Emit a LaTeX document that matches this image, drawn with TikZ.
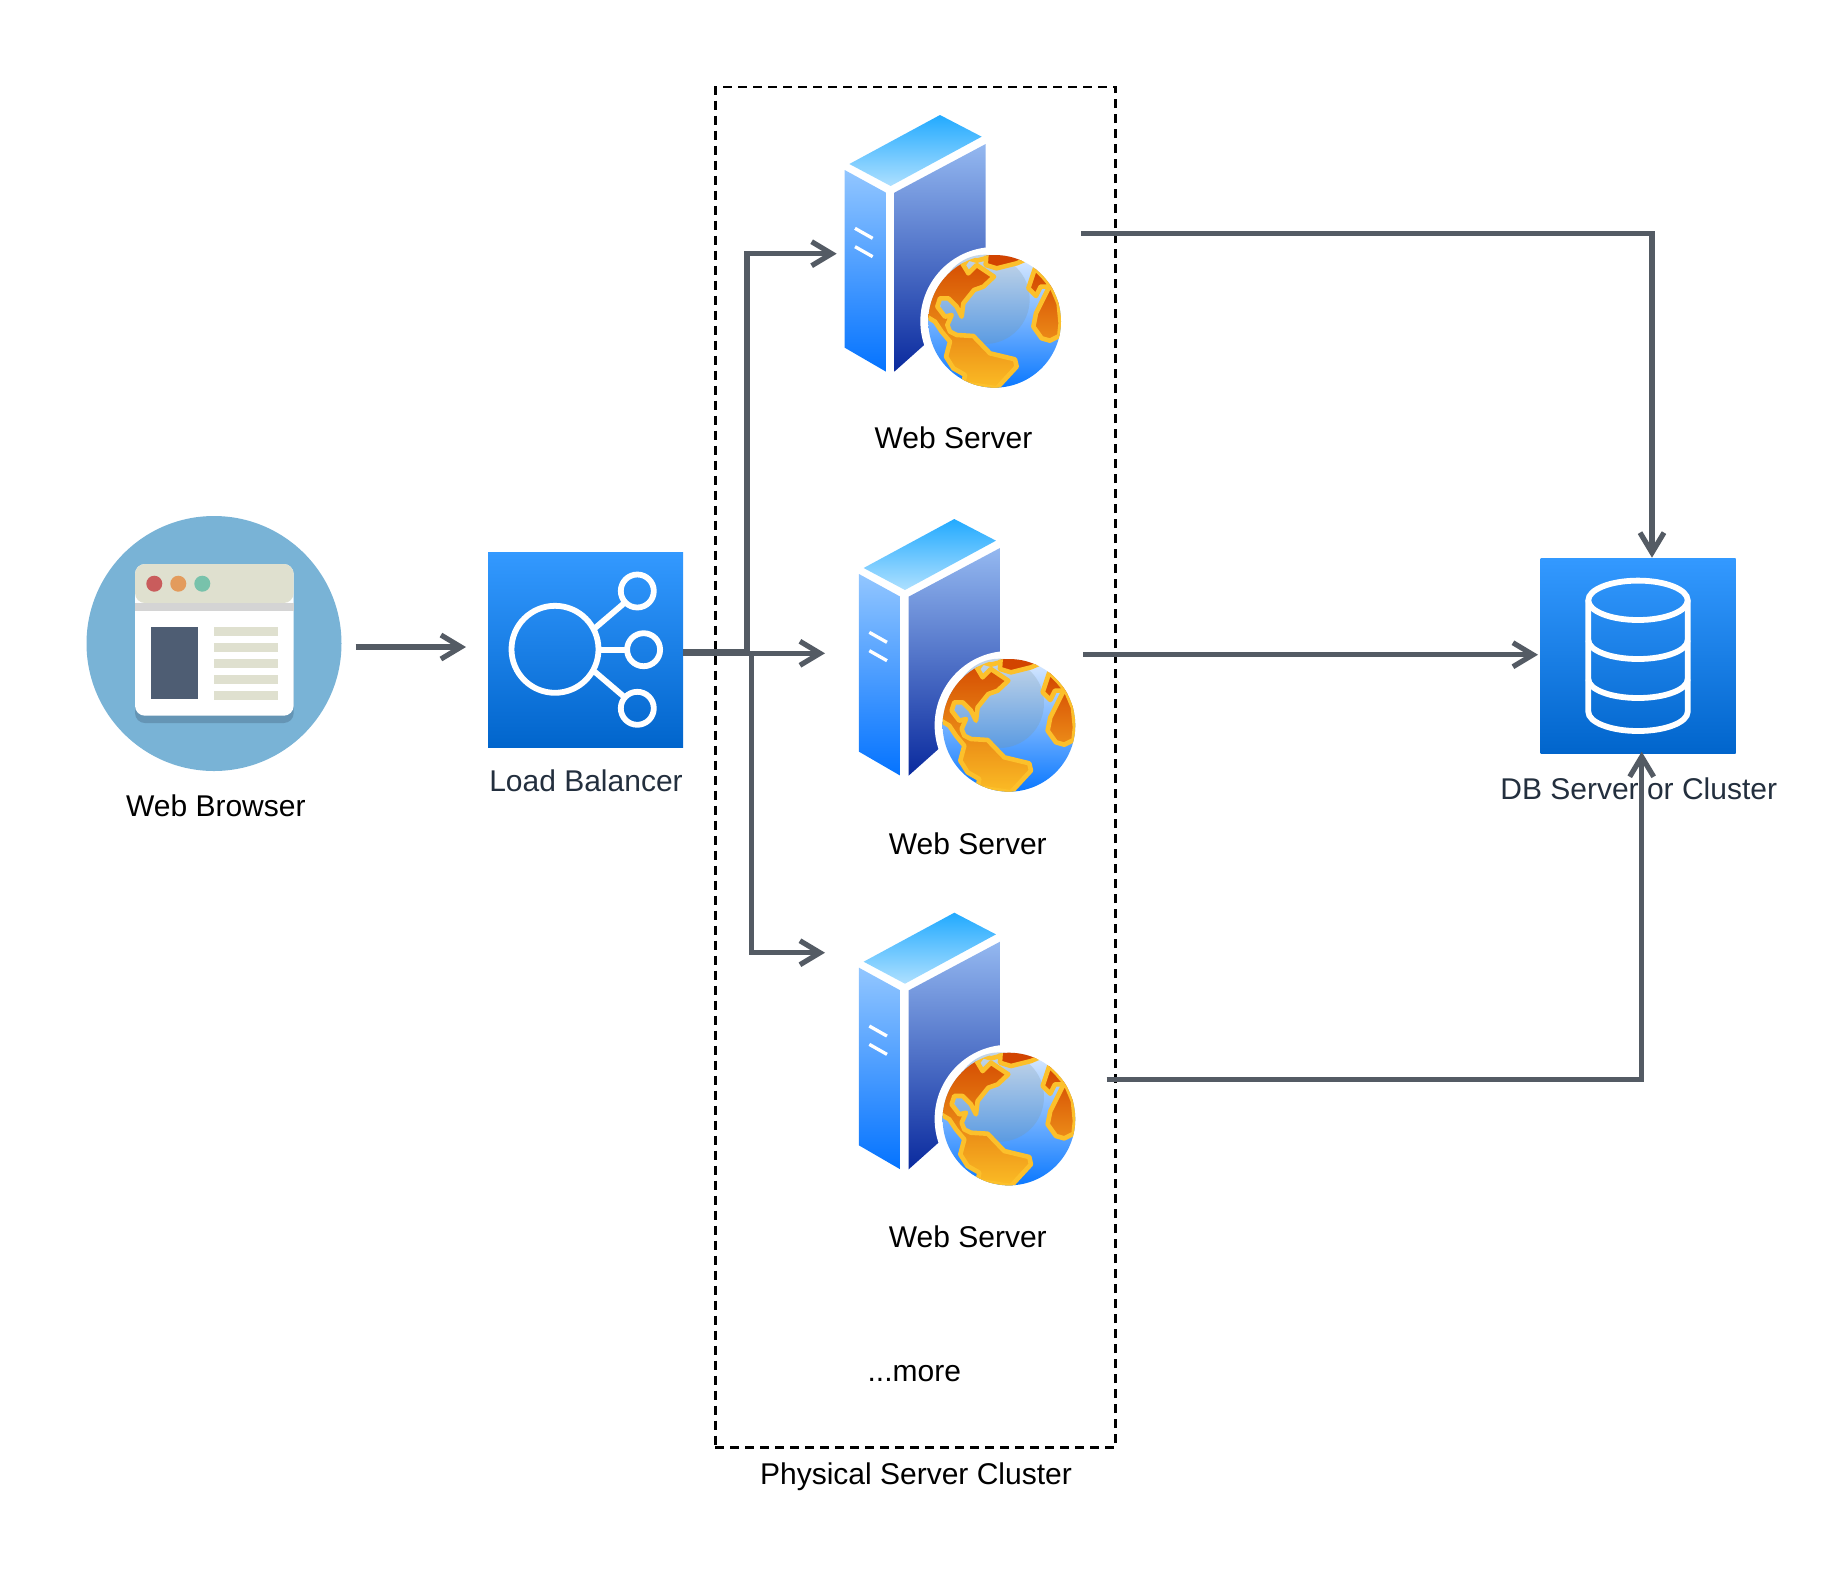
\documentclass[tikz,border=0pt]{standalone}
\usepackage{fontspec}
\setmainfont{Liberation Sans}
\usetikzlibrary{arrows.meta}

\definecolor{linkgray}{HTML}{545B64}
\definecolor{inkblue}{HTML}{232F3E}
\definecolor{skycircle}{HTML}{79B3D6}
\definecolor{cardshadow}{HTML}{6595B5}
\definecolor{barcream}{HTML}{DFE0CF}
\definecolor{slateblock}{HTML}{4E5D73}
\definecolor{awstop}{HTML}{3399FF}
\definecolor{awslow}{HTML}{0165CC}
\definecolor{roofa}{HTML}{22AAFF}
\definecolor{roofb}{HTML}{AEE0FF}
\definecolor{fronta}{HTML}{92C6FF}
\definecolor{frontb}{HTML}{0473FF}
\definecolor{sidea}{HTML}{94B8F0}
\definecolor{sideb}{HTML}{0A2A9E}
\definecolor{globea}{HTML}{DCEBFF}
\definecolor{globeb}{HTML}{78B4FF}
\definecolor{globec}{HTML}{0A78FF}
\definecolor{hazea}{HTML}{C5D6E8}
\definecolor{hazeb}{HTML}{5B9BE2}
\definecolor{landtop}{HTML}{D24400}
\definecolor{landlow}{HTML}{FBBC25}
\definecolor{landmid}{HTML}{EC8C18}
\definecolor{coast}{HTML}{FCC02B}

\tikzset{
    txt/.style={inner sep=0pt, anchor=base, font=\fontsize{15}{18}\selectfont},
    link/.style={draw=linkgray, line width=2.6pt, -{Straight Barb[length=10pt, width=12pt]}},
    awsbox/.style={rectangle, inner sep=0pt, outer sep=0pt, minimum size=97.5pt, top color=awstop, bottom color=awslow},
    icon/.style={draw=white, line width=2.9pt},
    pics/webserver/.style={code={
        \begin{scope}[x=0.5pt/3, y=-0.5pt/3, shift={(-360,-75)}]
            \shade[top color=roofa, bottom color=roofb] (360,75) -- (485,140) -- (212,288) -- (88,222) -- cycle;
            \shade[top color=fronta, bottom color=frontb] (74,240) -- (198,308) -- (198,845) -- (74,773) -- cycle;
            \shade[top color=sidea, bottom color=sideb] (223,308) -- (497,162) -- (497,600) -- (223,845) -- cycle;
            \draw[white, line width=1.65pt] (105,415) -- (158,445);
            \draw[white, line width=1.65pt] (105,470) -- (158,500);

            \fill[white] (524,694) circle (223);
            \shade[top color=globea, middle color=globeb, bottom color=globec] (524,694) circle (199);
            \shade[top color=hazea, bottom color=hazeb] (495,628) circle (134);

            \begin{scope}
                \clip (524,694) circle (199);
                \shade[top color=landtop, bottom color=landlow, draw=coast, line width=2.3pt, line join=round]
                    (320,680) -- (345,695) -- (365,725) -- (390,755) -- (378,800) -- (400,835) -- (435,855) -- (430,880) -- (530,895) -- (590,830) -- (585,808) -- (510,790) -- (460,738) -- (410,735) -- (390,725) -- (382,705) -- (395,675) -- (375,680) -- (352,650) -- (360,625) -- (385,625) -- (410,650) -- (425,680) -- (430,640) -- (462,600) -- (490,590) -- (522,560) -- (470,525) -- (445,550) -- (430,525) -- (400,480) -- (300,560) -- cycle;
                \fill[landtop, draw=coast, line width=2.3pt, line join=round] (500,480) -- (497,525) -- (530,535) -- (590,520) -- (625,505) -- (600,470) -- cycle;
                \draw[coast, line width=2.3pt] (430,525) -- (445,505) -- (470,512) -- (497,505);
                \shade[top color=landtop, bottom color=landmid, draw=coast, line width=2.3pt, line join=round]
                    (645,535) -- (625,595) -- (648,618) -- (662,590) -- (688,590) -- (648,670) -- (640,710) -- (665,745) -- (690,752) -- (718,738) -- (722,700) -- (716,640) -- (695,590) -- (670,560) -- cycle;
            \end{scope}
        \end{scope}
    }}
}

\begin{document}
\begin{tikzpicture}[x=0.5pt, y=-0.5pt]

    \useasboundingbox (0,0) rectangle (1837,1570);

    \node[draw=black, line width=1.25pt, dash pattern=on 4.5pt off 3pt, rectangle, inner sep=0pt, minimum width=200.2pt, minimum height=680.35pt] (cluster) at (915.5,767.35) {};

    \node[circle, fill=skycircle, inner sep=0pt, minimum size=127.5pt] (browser) at (214,643.5) {};
    \fill[cardshadow, rounded corners=5pt] (135,650) -- (135,723) -- (293.7,723) -- (293.7,650);
    \fill[white, rounded corners=5pt] (135,564) rectangle (293.7,715.7);
    \fill[barcream, rounded corners=5pt] (135,603) -- (135,564) -- (293.7,564) -- (293.7,603) -- cycle;
    \fill[black!17] (135,603) rectangle (293.7,611);
    \foreach \x/\c in {154.3/C95C5C, 178.3/E39B5C, 202.3/78C2AB} {
        \definecolor{dotcolor}{HTML}{\c}
        \fill[dotcolor] (\x,583.7) circle (8);
    }
    \fill[slateblock] (150.5,627) rectangle (198,699);
    \foreach \y in {627,643,659,675,691}
        \fill[barcream] (214,\y) rectangle (278,\y+8.5);
    \node[txt] (browserlabel) at (215.8,816) {Web Browser};

    \node[awsbox] (lb) at (585.5,650) {};
    \draw[icon] (555,649.3) circle (43.5);
    \draw[icon] (637.3,591) circle (16.5);
    \draw[icon] (643.6,649.7) circle (16.5);
    \draw[icon] (637.3,708.3) circle (16.5);
    \draw[icon] (594.7,628.3) -- (624,603.3);
    \draw[icon] (598,650) -- (627,650);
    \draw[icon] (594.7,671.7) -- (624,696.7);
    \node[txt, text=inkblue] (lblabel) at (586,791.7) {Load Balancer};

    \foreach \i/\x/\y/\ly in {1/940/115/448.3, 2/954.3/519/854, 3/954.3/912.7/1247} {
        \pic at (\x,\y) {webserver};
        \node[txt] (wslabel\i) at (\x+13.5,\ly) {Web Server};
    }
    \node[txt] (more) at (914.3,1381.7) {...more};
    \node[txt] (clusterlabel) at (916,1484) {Physical Server Cluster};

    \node[awsbox] (db) at (1638,656) {};
    \draw[icon] (1638,600.3) ellipse (49.7 and 19.7);
    \draw[icon] (1588.3,600.3) -- (1588.3,711.7) arc[start angle=180, end angle=360, x radius=49.7, y radius=-19.3] -- (1687.7,600.3);
    \draw[icon] (1588.3,640) arc[start angle=180, end angle=360, x radius=49.7, y radius=-19];
    \draw[icon] (1588.3,679) arc[start angle=180, end angle=360, x radius=49.7, y radius=-19];
    \node[txt, text=inkblue] (dblabel) at (1638.7,799.3) {DB Server or Cluster};

    \coordinate (browserout) at (355.6,647);
    \coordinate (lbin) at (466,647);
    \coordinate (lbup) at (683,651.3);
    \coordinate (lbdown) at (683,653.3);
    \coordinate (ws1in) at (836.7,253.7);
    \coordinate (ws2in) at (825,653.3);
    \coordinate (ws3in) at (825,952.7);
    \coordinate (ws1out) at (1081.3,233.3);
    \coordinate (ws2out) at (1083.3,654.7);
    \coordinate (ws3out) at (1106.7,1079.3);
    \coordinate (dbtop) at (1652,557.7);
    \coordinate (dbleft) at (1538,654.7);
    \coordinate (dbbottom) at (1641.7,751.7);

    \draw[link] (browserout) -- (lbin);
    \draw[link] (lbup) -- ++(64,0) |- (ws1in);
    \draw[link] (lbdown) -- (ws2in);
    \draw[link] (lbdown) -- ++(68.7,0) |- (ws3in);
    \draw[link] (ws1out) -| (dbtop);
    \draw[link] (ws2out) -- (dbleft);
    \draw[link] (ws3out) -| (dbbottom);

\end{tikzpicture}
\end{document}
